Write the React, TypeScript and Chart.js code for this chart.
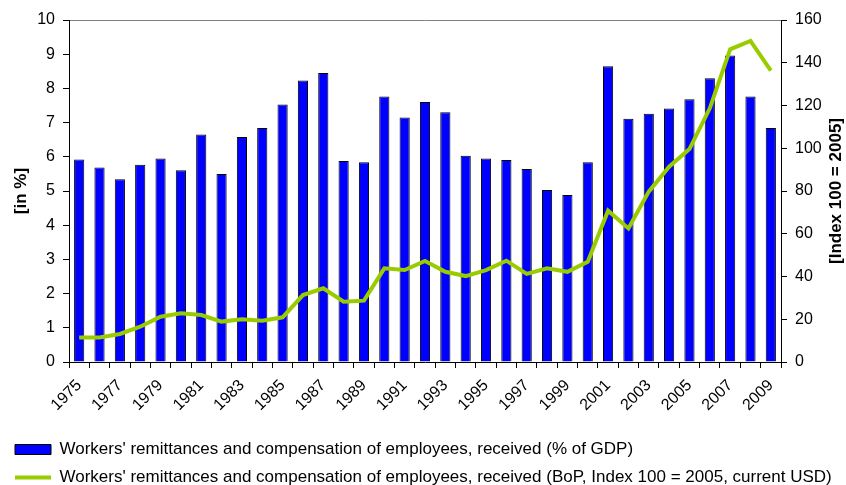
import React, { useEffect, useRef } from "react";
import { Chart, registerables } from "chart.js";

Chart.register(...registerables);

const years: string[] = [
  "1975", "1976", "1977", "1978", "1979", "1980", "1981", "1982", "1983", "1984",
  "1985", "1986", "1987", "1988", "1989", "1990", "1991", "1992", "1993", "1994",
  "1995", "1996", "1997", "1998", "1999", "2000", "2001", "2002", "2003", "2004",
  "2005", "2006", "2007", "2008", "2009",
];

const remittancesPctGdp: number[] = [
  5.92, 5.69, 5.34, 5.77, 5.95, 5.61, 6.65, 5.5, 6.58, 6.84,
  7.53, 8.23, 8.45, 5.88, 5.84, 7.76, 7.15, 7.6, 7.3, 6.03,
  5.95, 5.91, 5.64, 5.03, 4.88, 5.84, 8.65, 7.11, 7.26, 7.41,
  7.68, 8.3, 8.96, 7.76, 6.84,
];

const remittancesIndex: number[] = [
  11.5, 11.5, 13.1, 16.5, 21.2, 22.8, 22.0, 18.9, 20.0, 19.3,
  20.9, 31.3, 34.5, 28.2, 28.7, 43.8, 43.0, 47.3, 42.2, 40.2,
  43.0, 47.4, 41.2, 43.8, 42.2, 46.9, 70.8, 62.5, 79.7, 91.4,
  99.6, 118.7, 146.3, 150.2, 136.3,
];

const barLabel = "Workers' remittances and compensation of employees, received (% of GDP)";
const lineLabel =
  "Workers' remittances and compensation of employees, received (BoP, Index 100 = 2005, current USD)";
const leftTitle = "[in %]";
const rightTitle = "[Index 100 = 2005]";

const FONT = "'Liberation Sans', Arial, Helvetica, sans-serif";
const BAR_COLOR = "#0000FF";
const LINE_COLOR = "#99CC00";

export default function App() {
  const canvasRef = useRef<HTMLCanvasElement | null>(null);

  useEffect(() => {
    const canvas = canvasRef.current;
    if (!canvas) return;

    const rightTitlePlugin = {
      id: "rightTitle",
      afterDraw(chart: any) {
        const { ctx, chartArea } = chart;
        ctx.save();
        ctx.translate(836, (chartArea.top + chartArea.bottom) / 2);
        ctx.rotate(-Math.PI / 2);
        ctx.font = `bold 17px ${FONT}`;
        ctx.fillStyle = "#000";
        ctx.textAlign = "center";
        ctx.textBaseline = "middle";
        ctx.fillText(rightTitle, 0, 0);
        ctx.restore();
      },
    };

    const chart = new Chart(canvas, {
      type: "bar",
      data: {
        labels: years,
        datasets: [
          {
            type: "bar",
            label: barLabel,
            data: remittancesPctGdp,
            backgroundColor: BAR_COLOR,
            borderColor: "#000000",
            borderWidth: 1,
            categoryPercentage: 1,
            barPercentage: 0.5,
            yAxisID: "y",
            order: 2,
          },
          {
            type: "line",
            label: lineLabel,
            data: remittancesIndex,
            borderColor: LINE_COLOR,
            backgroundColor: LINE_COLOR,
            borderWidth: 4,
            pointRadius: 0,
            tension: 0,
            fill: false,
            yAxisID: "y1",
            order: 1,
          } as any,
        ],
      },
      options: {
        animation: false,
        responsive: true,
        maintainAspectRatio: false,
        layout: { padding: { left: 4, right: 0, top: 20, bottom: 0 } },
        plugins: {
          tooltip: { enabled: false },
          legend: {
            position: "bottom",
            align: "start",
            maxHeight: 55,
            labels: {
              font: { family: FONT, size: 17 },
              color: "#000",
              usePointStyle: true,
              pointStyleWidth: 36,
              boxHeight: 10,
              padding: 11,
              generateLabels: () => [
                {
                  text: barLabel,
                  fillStyle: BAR_COLOR,
                  strokeStyle: "#000",
                  lineWidth: 1,
                  pointStyle: "rect",
                  datasetIndex: 0,
                  hidden: false,
                },
                {
                  text: lineLabel,
                  fillStyle: LINE_COLOR,
                  strokeStyle: LINE_COLOR,
                  lineWidth: 4,
                  pointStyle: "line",
                  datasetIndex: 1,
                  hidden: false,
                },
              ] as any,
            },
          },
        },
        scales: {
          x: {
            grid: {
              display: true,
              drawOnChartArea: false,
              offset: true,
              tickLength: 6,
              tickColor: "#000",
            },
            border: { display: true, color: "#000", width: 1 },
            ticks: {
              autoSkip: false,
              maxRotation: 45,
              minRotation: 45,
              color: "#000",
              font: { family: FONT, size: 16 },
              padding: 8,
              callback: (_v: any, i: number) => (i % 2 === 0 ? years[i] : ""),
            },
            afterFit: (scale: any) => {
              scale.height = 68;
            },
          },
          y: {
            position: "left",
            min: 0,
            max: 10,
            ticks: {
              stepSize: 1,
              color: "#000",
              font: { family: FONT, size: 16 },
              padding: 8,
            },
            grid: {
              drawOnChartArea: true,
              color: (ctx: any) => (ctx.tick && ctx.tick.value === 10 ? "#808080" : "rgba(0,0,0,0)"),
              tickColor: "#000",
              tickLength: 6,
            },
            border: { display: true, color: "#000", width: 1 },
            title: {
              display: true,
              text: leftTitle,
              color: "#000",
              font: { family: FONT, size: 17, weight: "bold" },
              padding: { top: 7, bottom: 0 },
            },
            afterFit: (scale: any) => {
              scale.width = 65;
            },
          },
          y1: {
            position: "right",
            min: 0,
            max: 160,
            ticks: {
              stepSize: 20,
              color: "#000",
              font: { family: FONT, size: 16 },
              padding: 8,
            },
            grid: {
              drawOnChartArea: false,
              tickColor: "#000",
              tickLength: 6,
            },
            border: { display: true, color: "#000", width: 1 },
            afterFit: (scale: any) => {
              scale.width = 65;
            },
          },
        },
      },
      plugins: [rightTitlePlugin],
    } as any);

    return () => {
      chart.destroy();
    };
  }, []);

  return (
    <div style={{ position: "absolute", left: 0, top: 0, width: 846, height: 485, background: "#fff" }}>
      <canvas ref={canvasRef} />
    </div>
  );
}
